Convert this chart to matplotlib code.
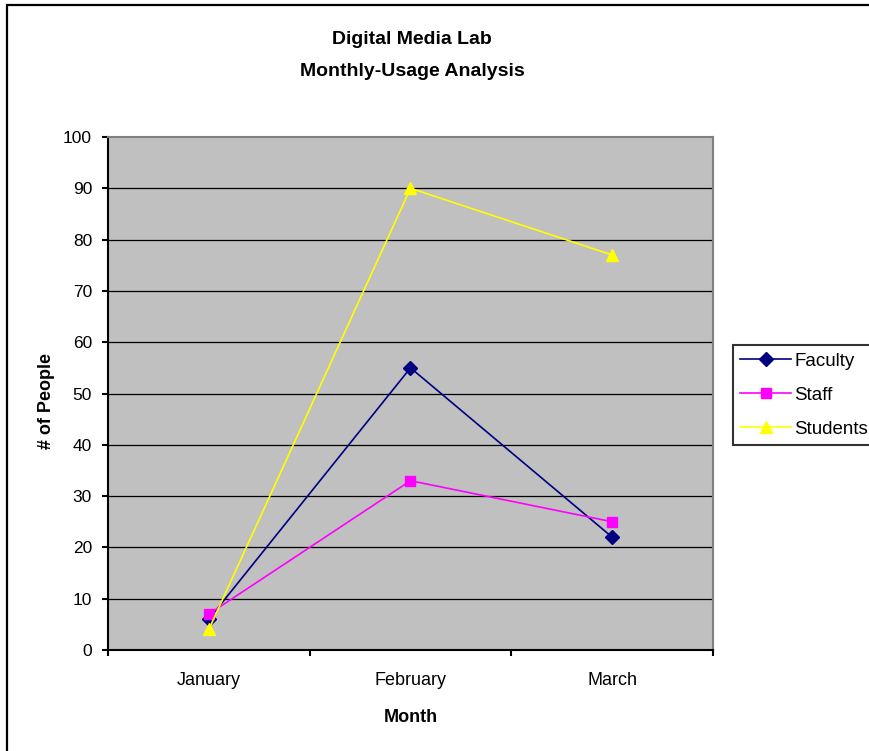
import matplotlib.pyplot as plt
from matplotlib.patches import Rectangle

plt.rcParams['font.family'] = ['Liberation Sans', 'DejaVu Sans']

# data
months = ['January', 'February', 'March']
faculty = [6, 55, 22]
staff = [7, 33, 25]
students = [4, 90, 77]

W, H = 870, 751
fig = plt.figure(figsize=(W / 100, H / 100), dpi=100)

# outer chart border (only top/left visible, rest is cropped)
fig.patches.append(Rectangle((7 / W, -0.05), 1.1, 1 - 5 / H + 0.05, transform=fig.transFigure,
                             fill=False, edgecolor='black', linewidth=1.6, clip_on=False))

ax = fig.add_axes([108 / W, 1 - 650 / H, (713 - 108) / W, (650 - 137) / H])
ax.set_facecolor('#C0C0C0')

x = range(len(months))
ax.plot(x, faculty, color='#000080', marker='D', markersize=7, linewidth=1.2, label='Faculty', zorder=3)
ax.plot(x, staff, color='#FF00FF', marker='s', markersize=7, markerfacecolor='#FF00FF',
        markeredgecolor='#FF00FF', linewidth=1.2, label='Staff', zorder=3)
ax.plot(x, students, color='#FFFF00', marker='^', markersize=9, linewidth=1.2, label='Students', zorder=3)

ax.set_xlim(-0.5, 2.5)
ax.set_ylim(0, 100)
ax.set_yticks(range(0, 101, 10))
ax.set_xticks(list(x))
ax.set_xticklabels(months)
ax.set_xticks([-0.5, 0.5, 1.5, 2.5], minor=True)
ax.tick_params(axis='x', which='major', length=0, pad=16, labelsize=13)
ax.tick_params(axis='x', which='minor', length=4.5, width=1.5, direction='out')
ax.tick_params(axis='y', length=4.5, width=1.5, direction='out', labelsize=12.5, pad=7)

for v in range(10, 100, 10):
    ax.axhline(v, color='black', linewidth=0.9, zorder=1)

for s in ['top', 'right']:
    ax.spines[s].set_color('#808080')
    ax.spines[s].set_linewidth(1.5)
for s in ['left', 'bottom']:
    ax.spines[s].set_color('black')
    ax.spines[s].set_linewidth(1.5)

ax.set_xlabel('Month', fontweight='bold', fontsize=13)
ax.xaxis.set_label_coords(0.5, (650 - 709) / 513)
ax.set_ylabel('# of People', fontweight='bold', fontsize=13)
ax.yaxis.set_label_coords((55 - 108) / 605, (650 - 401) / 513)

fig.text(412 / W, 1 - 40 / H, 'Digital Media Lab', ha='center', va='center',
         fontweight='bold', fontsize=14)
fig.text(412 / W, 1 - 72 / H, 'Monthly-Usage Analysis', ha='center', va='center',
         fontweight='bold', fontsize=14)

leg = fig.legend(loc='upper left', bbox_to_anchor=(733 / W, 1 - 345 / H), fontsize=13.5,
                 frameon=True, fancybox=False, borderaxespad=0, handlelength=2.67,
                 handletextpad=0.2, borderpad=0.4, labelspacing=0.9)
leg.get_frame().set_edgecolor('black')
leg.get_frame().set_linewidth(1.5)

fig.savefig('out.png', dpi=100)
